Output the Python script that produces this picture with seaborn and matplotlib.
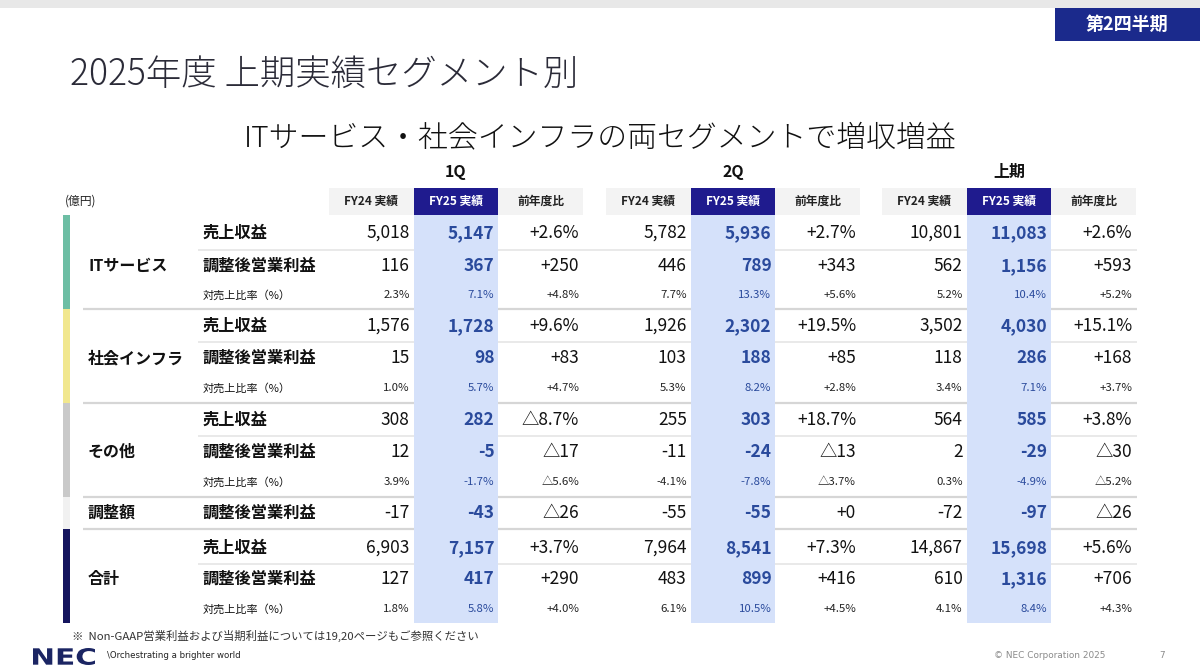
import matplotlib
matplotlib.use("Agg")
import matplotlib.pyplot as plt
import seaborn as sns
from matplotlib.patches import Rectangle, PathPatch
from matplotlib.textpath import TextPath
from matplotlib.font_manager import FontProperties
from matplotlib.transforms import Affine2D

sns.set_theme(style="white")
plt.rcParams['font.family'] = ['Noto Sans CJK JP', 'DejaVu Sans']

# ---------------- data ----------------
title = "2025年度 上期実績セグメント別"
subtitle = "ITサービス・社会インフラの両セグメントで増収増益"
badge = "第2四半期"
unit_label = "(億円)"
periods = ["1Q", "2Q", "上期"]
col_headers = ["FY24 実績", "FY25 実績", "前年度比"]
segments = ["ITサービス", "社会インフラ", "その他", "調整額", "合計"]
segment_metrics = [
    ["売上収益", "調整後営業利益", "対売上比率（%）"],
    ["売上収益", "調整後営業利益", "対売上比率（%）"],
    ["売上収益", "調整後営業利益", "対売上比率（%）"],
    ["調整後営業利益"],
    ["売上収益", "調整後営業利益", "対売上比率（%）"],
]
ratio_label = "対売上比率（%）"

q1_fy24 = ["5,018", "116", "2.3%", "1,576", "15", "1.0%", "308", "12", "3.9%", "-17", "6,903", "127", "1.8%"]
q1_fy25 = ["5,147", "367", "7.1%", "1,728", "98", "5.7%", "282", "-5", "-1.7%", "-43", "7,157", "417", "5.8%"]
q1_yoy = ["+2.6%", "+250", "+4.8%", "+9.6%", "+83", "+4.7%", "△8.7%", "△17", "△5.6%", "△26", "+3.7%", "+290", "+4.0%"]
q2_fy24 = ["5,782", "446", "7.7%", "1,926", "103", "5.3%", "255", "-11", "-4.1%", "-55", "7,964", "483", "6.1%"]
q2_fy25 = ["5,936", "789", "13.3%", "2,302", "188", "8.2%", "303", "-24", "-7.8%", "-55", "8,541", "899", "10.5%"]
q2_yoy = ["+2.7%", "+343", "+5.6%", "+19.5%", "+85", "+2.8%", "+18.7%", "△13", "△3.7%", "+0", "+7.3%", "+416", "+4.5%"]
h1_fy24 = ["10,801", "562", "5.2%", "3,502", "118", "3.4%", "564", "2", "0.3%", "-72", "14,867", "610", "4.1%"]
h1_fy25 = ["11,083", "1,156", "10.4%", "4,030", "286", "7.1%", "585", "-29", "-4.9%", "-97", "15,698", "1,316", "8.4%"]
h1_yoy = ["+2.6%", "+593", "+5.2%", "+15.1%", "+168", "+3.7%", "+3.8%", "△30", "△5.2%", "△26", "+5.6%", "+706", "+4.3%"]

footnote = "※  Non-GAAP営業利益および当期利益については19,20ページもご参照ください"
logo_text = "NEC"
tagline = "\\Orchestrating a brighter world"
copyright_text = "© NEC Corporation 2025"
page_no = "7"

# ---------------- styling / layout ----------------
segment_colors = ["#6dbea4", "#f1e78e", "#c9c9c9", "#f1f1f1", "#15155e"]
badge_color = "#1b2a8c"
head_dark = "#1f1b8e"
head_gray = "#f3f3f3"
blue_col = "#d5e1fa"
blue_txt = "#2a4a9c"
txt = "#111111"

fig = plt.figure(figsize=(12, 6.68), dpi=100)
ax = fig.add_axes([0, 0, 1, 1])
ax.set_xlim(0, 1200)
ax.set_ylim(668, 0)
ax.axis("off")

# top strip and badge
ax.add_patch(Rectangle((0, 0), 1200, 8, color="#e8e8e8", lw=0))
ax.add_patch(Rectangle((1055, 8), 145, 33, color=badge_color, lw=0))
ax.text(1127, 24.5, badge, color="white", fontsize=13, fontweight="bold", ha="center", va="center")

ax.text(70, 75, title, color="#2b2b38", fontsize=25.5, ha="left", va="center", fontweight="light")
ax.text(600, 138, subtitle, color="#111111", fontsize=21.5, ha="center", va="center", fontweight="light")

group_left = [329, 606, 882]
cell_w = 84.7
head_top, head_bot = 188, 215
table_bot = 623

period_data = [
    [q1_fy24, q1_fy25, q1_yoy],
    [q2_fy24, q2_fy25, q2_yoy],
    [h1_fy24, h1_fy25, h1_yoy],
]

# row layout
row_centers = [[233, 266, 295], [326, 358, 388], [420, 452, 482], [513], [548, 579, 609]]
seg_bounds = [215, 309, 403, 497, 529, 623]

# separators
for b in seg_bounds[1:-1]:
    ax.plot([83, 1137], [b, b], color="#d6d6d6", lw=1.6, zorder=1, solid_capstyle="butt")
for si, rows in enumerate(row_centers):
    if len(rows) == 3:
        y = (rows[0] + rows[1]) / 2
        ax.plot([198, 1137], [y, y], color="#e7e7e7", lw=1.3, zorder=1, solid_capstyle="butt")

# segment colour bars
for si, seg in enumerate(segments):
    y0, y1 = seg_bounds[si], seg_bounds[si + 1]
    ax.add_patch(Rectangle((63, y0), 7, y1 - y0, color=segment_colors[si], lw=0, zorder=2))
    rows = row_centers[si]
    ymid = rows[1] if len(rows) == 3 else rows[0]
    ax.text(88, ymid, seg, color=txt, fontsize=11.5, fontweight="bold", ha="left", va="center")

ax.text(65, 201, unit_label, color="#222222", fontsize=8.5, ha="left", va="center")

# headers + blue column
for gi, p in enumerate(periods):
    gl = group_left[gi]
    ax.text(gl + 1.5 * cell_w, 172, p, color=txt, fontsize=11.5, fontweight="bold", ha="center", va="center")
    for ci, h in enumerate(col_headers):
        x0 = gl + ci * cell_w
        is_dark = ci == 1
        ax.add_patch(Rectangle((x0, head_top), cell_w, head_bot - head_top,
                               color=head_dark if is_dark else head_gray, lw=0, zorder=2))
        ax.text(x0 + cell_w / 2, (head_top + head_bot) / 2, h,
                color="white" if is_dark else "#222222", fontsize=8.5, fontweight="bold",
                ha="center", va="center", zorder=3)
    ax.add_patch(Rectangle((gl + cell_w, head_bot), cell_w, table_bot - head_bot,
                           color=blue_col, lw=0, zorder=2))

# row labels and values
k = 0
for si, metrics in enumerate(segment_metrics):
    for ri, m in enumerate(metrics):
        y = row_centers[si][ri]
        small = m == ratio_label
        ax.text(203, y, m, color=txt, fontsize=8 if small else 11.7,
                fontweight="normal" if small else "bold", ha="left", va="center", zorder=3)
        for gi in range(3):
            gl = group_left[gi]
            for ci in range(3):
                val = period_data[gi][ci][k]
                xr = gl + (ci + 1) * cell_w - 4
                is_blue = ci == 1
                ax.text(xr, y, val,
                        color=blue_txt if is_blue else ("#222222" if small else txt),
                        fontsize=8.2 if small else 12.5,
                        fontweight="bold" if (is_blue and not small) else "normal",
                        ha="right", va="center", zorder=3)
        k += 1

# footer
ax.text(72, 636, footnote, color="#333333", fontsize=8.2, ha="left", va="center")

# NEC wordmark: real glyph outlines, stretched to the logo box
tp = TextPath((0, 0), logo_text, size=20, prop=FontProperties(family="DejaVu Sans", weight="bold"))
ext = tp.get_extents()
sx = 62.0 / ext.width
sy = 17.0 / ext.height
tr = Affine2D().translate(-ext.x0, -ext.y0).scale(sx, -sy).translate(33, 665)
ax.add_patch(PathPatch(tr.transform_path(tp), color="#1b2563", lw=0))

ax.text(107, 656, tagline, color="#222222", fontsize=6.2, ha="left", va="center", family="DejaVu Sans")
ax.text(1105, 656, copyright_text, color="#8a8a8a", fontsize=6.4, ha="right", va="center", family="DejaVu Sans")
ax.text(1162, 656, page_no, color="#8a8a8a", fontsize=6.4, ha="center", va="center", family="DejaVu Sans")

fig.savefig("out.png", dpi=100, facecolor="white")
